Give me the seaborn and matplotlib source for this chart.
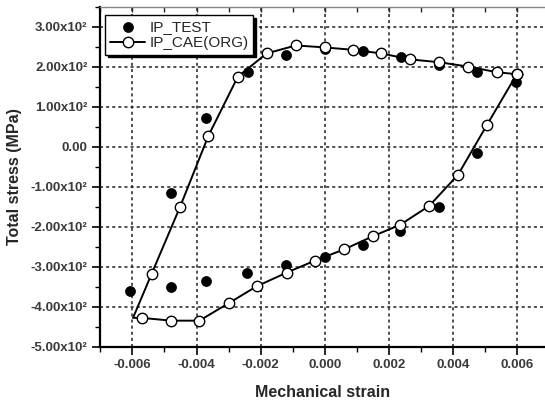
import matplotlib
matplotlib.use("Agg")
import matplotlib.pyplot as plt
from matplotlib.ticker import MultipleLocator
import seaborn as sns
import pandas as pd

# ---- data ----
test_strain = [-0.00609, -0.00479, -0.00370, -0.00241, -0.00121, 0.00000, 0.00119,
               0.00236, 0.00357, 0.00476, 0.00598, 0.00476, 0.00357, 0.00237,
               0.00120, 0.00000, -0.00121, -0.00240, -0.00371, -0.00480]
test_stress = [-360, -350, -335, -315, -295, -275, -245,
               -212, -150, -15, 162, 187, 204, 225,
               238, 243, 228, 187, 71, -116]

cae_strain = [0.00599, 0.00505, 0.00416, 0.00326, 0.00236, 0.00150, 0.00060,
              -0.00031, -0.00119, -0.00212, -0.00299, -0.00391, -0.00479, -0.00571,
              -0.00598, -0.00540, -0.00451, -0.00363, -0.00271, -0.00181, -0.00090,
              0.00000, 0.00089, 0.00177, 0.00267, 0.00357, 0.00448, 0.00537, 0.00599]
cae_stress = [181, 53, -70, -148, -195, -224, -257,
              -285, -315, -349, -391, -435, -435, -428,
              -428, -318, -150, 27, 175, 233, 253,
              248, 242, 233, 218, 211, 200, 186, 181]
cae_marked = [1, 1, 1, 1, 1, 1, 1,
              1, 1, 1, 1, 1, 1, 1,
              0, 1, 1, 1, 1, 1, 1,
              1, 1, 1, 1, 1, 1, 1, 1]

x_ticks = [-0.006, -0.004, -0.002, 0.000, 0.002, 0.004, 0.006]
x_labels = ["-0.006", "-0.004", "-0.002", "0.000", "0.002", "0.004", "0.006"]
y_ticks = [-500, -400, -300, -200, -100, 0, 100, 200, 300]
y_labels = ["-5.00x10²", "-4.00x10²", "-3.00x10²", "-2.00x10²", "-1.00x10²",
            "0.00", "1.00x10²", "2.00x10²", "3.00x10²"]

test_df = pd.DataFrame({"strain": test_strain, "stress": test_stress})
cae_df = pd.DataFrame({"strain": cae_strain, "stress": cae_stress})
mark_idx = [i for i, m in enumerate(cae_marked) if m]

sns.set_theme(style="white")
plt.rcParams["font.family"] = ["Liberation Sans", "DejaVu Sans"]

fig = plt.figure(figsize=(5.45, 4.01), dpi=100)
ax = fig.add_axes([0.1835, 0.1355, 0.8165, 0.8480])

sns.scatterplot(data=test_df, x="strain", y="stress", ax=ax, color="black",
                edgecolor="black", s=52, linewidth=0.5, zorder=3, label="IP_TEST")
sns.lineplot(data=cae_df, x="strain", y="stress", ax=ax, sort=False, estimator=None,
             color="black", linewidth=1.4, marker="o", markevery=mark_idx,
             markersize=7.5, markerfacecolor="white", markeredgecolor="black",
             markeredgewidth=1.0, zorder=4, label="IP_CAE(ORG)")

ax.set_xlim(-0.00701, 0.00687)
ax.set_ylim(-500, 350)
ax.set_xticks(x_ticks)
ax.set_xticklabels(x_labels)
ax.set_yticks(y_ticks)
ax.set_yticklabels(y_labels)
ax.xaxis.set_minor_locator(MultipleLocator(0.001))
ax.yaxis.set_minor_locator(MultipleLocator(50))

ax.grid(True, which="major", color="#222222", linestyle=(0, (2, 2)), linewidth=1.1)
ax.set_axisbelow(True)

for s in ["left", "bottom"]:
    ax.spines[s].set_color("black")
    ax.spines[s].set_linewidth(1.6)
ax.spines["top"].set_color("#888888")
ax.spines["top"].set_linewidth(1.0)
ax.spines["right"].set_visible(False)

ax.tick_params(which="major", direction="out", length=6, width=1.2, color="black",
               bottom=True, left=True, labelsize=9.5, labelcolor="#3a3a3a", pad=3)
ax.tick_params(which="minor", direction="out", length=3.5, width=1.0, color="black",
               bottom=True, left=True)
for lab in ax.get_xticklabels() + ax.get_yticklabels():
    lab.set_fontweight("bold")

top = ax.secondary_xaxis("top")
top.set_xticks(x_ticks)
top.xaxis.set_minor_locator(MultipleLocator(0.001))
top.tick_params(which="both", direction="in", length=3.5, width=1.0, labeltop=False)
top.spines["top"].set_visible(False)

ax.set_xlabel("Mechanical strain", fontsize=11.5, fontweight="bold", labelpad=10)
ax.set_ylabel("Total stress (MPa)", fontsize=11.5, fontweight="bold", labelpad=6)

leg = ax.legend(loc="upper left", bbox_to_anchor=(0.012, 0.975), fontsize=11,
                frameon=True, fancybox=False, shadow={"color": "black", "alpha": 1.0},
                borderpad=0.3, labelspacing=0.15, handlelength=2.3,
                handletextpad=0.3, borderaxespad=0.0)
leg.get_frame().set_edgecolor("black")
leg.get_frame().set_linewidth(1.0)
leg.get_frame().set_alpha(1.0)

fig.savefig("out.png", dpi=100)
